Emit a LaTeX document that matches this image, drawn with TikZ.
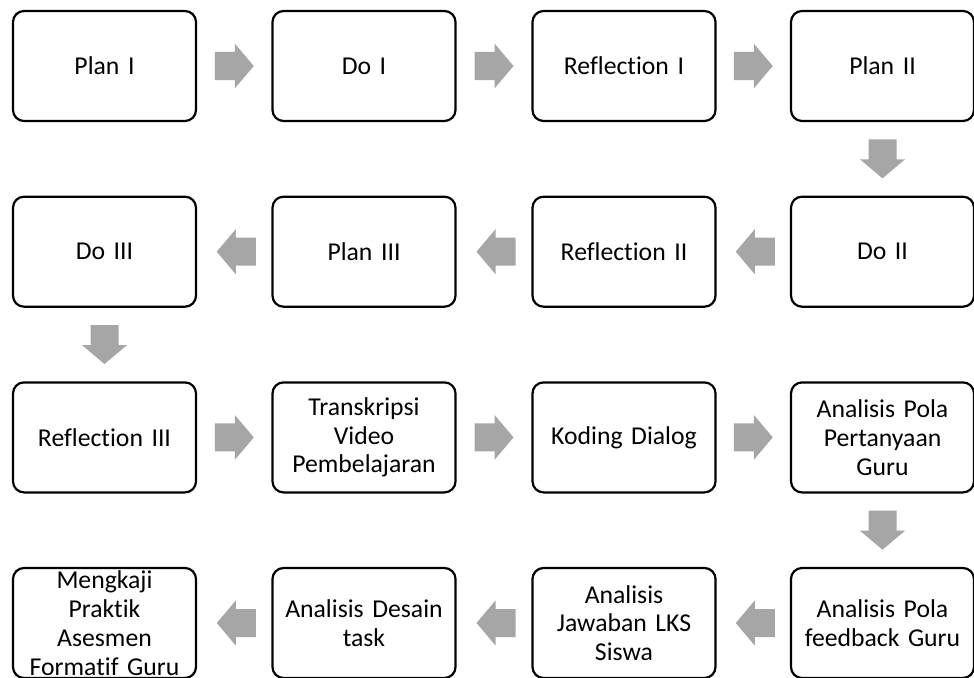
\documentclass[tikz,border=0pt]{standalone}
\usepackage{fontspec}
\setmainfont{Carlito}[Ligatures=NoCommon]
\usetikzlibrary{calc}
\definecolor{arrowgray}{HTML}{A6A6A6}
\tikzset{
  box/.style={draw=black, line width=2.2pt, rounded corners=11pt,
    minimum width=183pt, minimum height=110pt, align=center, inner sep=0pt,
    text width=180pt, font=\fontsize{25.7}{28.8}\selectfont},
  blockarrow/.pic={
    \fill[arrowgray] (-19.5,-14) -- (0.5,-14) -- (0.5,-22.5) -- (19.5,0)
      -- (0.5,22.5) -- (0.5,14) -- (-19.5,14) -- cycle;}
}
\begin{document}
\begin{tikzpicture}[x=1pt,y=1pt]
\useasboundingbox (0,0) rectangle (974,-677);
% rows
\node[box] (p1) at (104.5,-66) {Plan I};
\node[box] (d1) at (364,-66) {Do I};
\node[box] (r1) at (624,-66) {Reflection I};
\node[box] (p2) at (882.5,-66) {Plan II};
\node[box] (d3) at (104.5,-251.7) {Do III};
\node[box] (p3) at (364,-251.7) {Plan III};
\node[box] (r2) at (624,-251.7) {Reflection II};
\node[box] (d2) at (882.5,-251.7) {Do II};
\node[box] (r3) at (104.5,-437.4) {Reflection III};
\node[box] (tv) at (364,-437.4) {Transkripsi\\Video\\Pembelajaran};
\node[box] (kd) at (624,-437.4) {Koding Dialog};
\node[box] (ap) at (882.5,-437.4) {Analisis Pola\\Pertanyaan\\Guru};
\node[box] (mk) at (104.5,-623) {Mengkaji\\Praktik\\Asesmen\\Formatif Guru};
\node[box] (ad) at (364,-623) {Analisis Desain\\task};
\node[box] (aj) at (624,-623) {Analisis\\Jawaban LKS\\Siswa};
\node[box] (af) at (882.5,-623) {Analisis Pola\\feedback Guru};
% arrows
\pic at ($(p1.east)!0.5!(d1.west)$) {blockarrow};
\pic at ($(d1.east)!0.5!(r1.west)$) {blockarrow};
\pic at ($(r1.east)!0.5!(p2.west)$) {blockarrow};
\pic[rotate=-90] at ($(p2.south)!0.5!(d2.north)$) {blockarrow};
\pic[rotate=180] at ($(d2.west)!0.5!(r2.east)+(2,0)$) {blockarrow};
\pic[rotate=180] at ($(r2.west)!0.5!(p3.east)+(2,0)$) {blockarrow};
\pic[rotate=180] at ($(p3.west)!0.5!(d3.east)+(2,0)$) {blockarrow};
\pic[rotate=-90] at ($(d3.south)!0.5!(r3.north)$) {blockarrow};
\pic at ($(r3.east)!0.5!(tv.west)$) {blockarrow};
\pic at ($(tv.east)!0.5!(kd.west)$) {blockarrow};
\pic at ($(kd.east)!0.5!(ap.west)$) {blockarrow};
\pic[rotate=-90] at ($(ap.south)!0.5!(af.north)$) {blockarrow};
\pic[rotate=180] at ($(af.west)!0.5!(aj.east)+(2,0)$) {blockarrow};
\pic[rotate=180] at ($(aj.west)!0.5!(ad.east)+(2,0)$) {blockarrow};
\pic[rotate=180] at ($(ad.west)!0.5!(mk.east)+(2,0)$) {blockarrow};
\end{tikzpicture}
\end{document}
